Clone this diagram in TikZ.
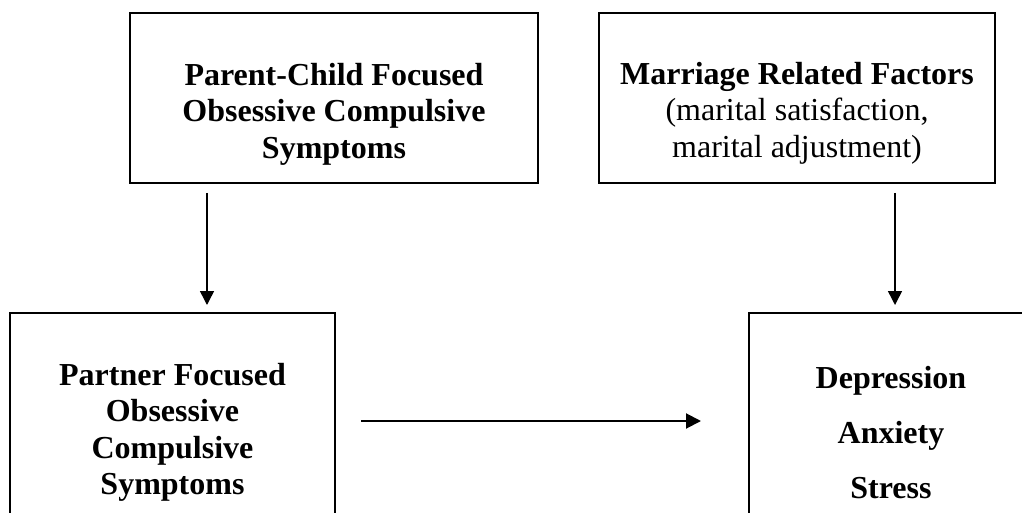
\documentclass[tikz,border=0pt]{standalone}
\usepackage{fontspec}
\setmainfont{Liberation Serif}
\usetikzlibrary{arrows.meta,calc}
\tikzset{
  boxnode/.style={draw=black, line width=2pt, rectangle, inner sep=0pt},
  txt/.style={align=center, inner sep=0pt, anchor=north,
    font=\fontsize{32}{36.5}\selectfont},
  arrv/.style={line width=1.5pt, -{Triangle[length=14pt,width=14pt]}},
  arrh/.style={line width=2pt, -{Triangle[length=15pt,width=15pt]}}
}
\begin{document}
\begin{tikzpicture}[x=1pt,y=-1pt]
\useasboundingbox (0,0) rectangle (1022,513);
\clip (0,0) rectangle (1022,513);
\fill[white] (0,0) rectangle (1022,513);
% boxes
\node[boxnode, minimum width=408pt, minimum height=170pt] (pc) at (334,98) {};
\node[boxnode, minimum width=396pt, minimum height=170pt] (mr) at (797,98) {};
\node[boxnode, minimum width=325pt, minimum height=260pt] (pt) at (172.5,443) {};
\node[boxnode, minimum width=284pt, minimum height=260pt] (dp) at (891,443) {};
% texts
\node[txt] (pctext) at (334,63) {\textbf{Parent-Child Focused}\\\textbf{Obsessive Compulsive}\\\textbf{Symptoms}};
\node[txt] (mrtext) at (797,62) {\textbf{Marriage Related Factors}\\(marital satisfaction,\\marital adjustment)};
\node[txt] (pttext) at (172.5,363) {\textbf{Partner Focused}\\\textbf{Obsessive}\\\textbf{Compulsive}\\\textbf{Symptoms}};
\node[txt] (dptext) at (891,366) {\textbf{Depression}\\[18.5pt]\textbf{Anxiety}\\[18.5pt]\textbf{Stress}};
% connectors
\coordinate (c1) at (207,0);
\coordinate (c2) at (895,0);
\coordinate (c3) at (0,421);
\draw[arrv] ([yshift=-9pt]pc.south -| c1) -- ([yshift=7pt]pt.north -| c1);
\draw[arrv] ([yshift=-9pt]mr.south -| c2) -- ([yshift=7pt]dp.north -| c2);
\draw[arrh] ([xshift=25pt]pt.east |- c3) -- ([xshift=-47pt]dp.west |- c3);
\end{tikzpicture}
\end{document}
